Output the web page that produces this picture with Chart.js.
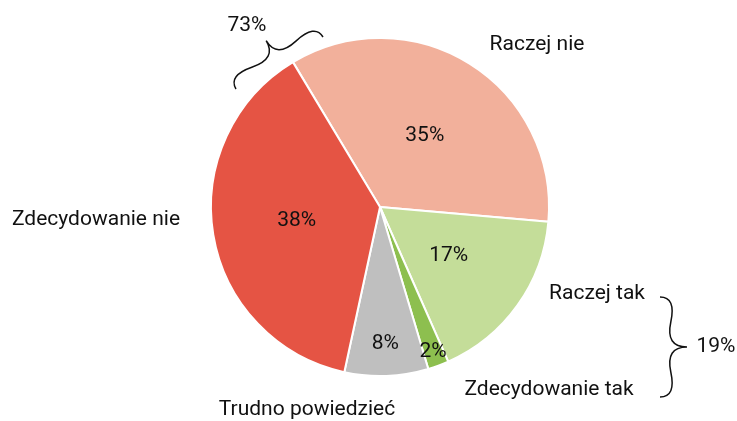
<!DOCTYPE html>
<html>
<head>
<meta charset="utf-8">
<script src="https://cdn.jsdelivr.net/npm/chart.js@4.4.1/dist/chart.umd.min.js"></script>
<style>
  body { margin: 0; background: #fff; }
  #wrap { width: 737px; height: 421px; position: relative; }
</style>
</head>
<body>
<div id="wrap"><canvas id="chart"></canvas></div>
<script>
// dane z wykresu
const categories = ['Raczej nie', 'Raczej tak', 'Zdecydowanie tak', 'Trudno powiedzieć', 'Zdecydowanie nie'];
const values = [35, 17, 2, 8, 38];
const sliceColors = ['#F2B09B', '#C4DD99', '#8DBF4F', '#BFBFBF', '#E55444'];
const groupLabels = ['73%', '19%'];

// odległość etykiet procentowych od środka (ułamek promienia)
const labelRadius = [0.5, 0.5, 0.91, 0.81, 0.5];

// położenie nazw kategorii (środek tekstu)
const namePos = [[537, 45], [597, 294], [549, 390], [307, 410], [96, 220]];

const FONT = '21px Roboto';

// klamra - rysowana krzywymi kwadratowymi
function brace(ctx, x1, y1, x2, y2, w, q) {
    let dx = x1 - x2, dy = y1 - y2;
    const len = Math.sqrt(dx * dx + dy * dy);
    dx /= len; dy /= len;
    const qx1 = x1 + q * w * dy, qy1 = y1 - q * w * dx;
    const qx2 = (x1 - 0.25 * len * dx) + (1 - q) * w * dy;
    const qy2 = (y1 - 0.25 * len * dy) - (1 - q) * w * dx;
    const tx = (x1 - 0.5 * len * dx) + w * dy;
    const ty = (y1 - 0.5 * len * dy) - w * dx;
    const qx3 = x2 + q * w * dy, qy3 = y2 - q * w * dx;
    const qx4 = (x1 - 0.75 * len * dx) + (1 - q) * w * dy;
    const qy4 = (y1 - 0.75 * len * dy) - (1 - q) * w * dx;
    ctx.beginPath();
    ctx.moveTo(x1, y1);
    ctx.quadraticCurveTo(qx1, qy1, qx2, qy2);
    ctx.quadraticCurveTo(2 * qx2 - qx1, 2 * qy2 - qy1, tx, ty);
    ctx.moveTo(x2, y2);
    ctx.quadraticCurveTo(qx3, qy3, qx4, qy4);
    ctx.quadraticCurveTo(2 * qx4 - qx3, 2 * qy4 - qy3, tx, ty);
    ctx.stroke();
}

const labelsPlugin = {
    id: 'labelsPlugin',
    afterDraw(chart) {
        const ctx = chart.ctx;
        const meta = chart.getDatasetMeta(0);
        ctx.save();
        ctx.fillStyle = '#111';
        ctx.font = FONT;
        ctx.textAlign = 'center';
        ctx.textBaseline = 'middle';

        // procenty na wycinkach
        meta.data.forEach((arc, i) => {
            const p = arc.getProps(['x', 'y', 'startAngle', 'endAngle', 'outerRadius'], true);
            const mid = (p.startAngle + p.endAngle) / 2;
            const r = p.outerRadius * labelRadius[i];
            ctx.fillText(values[i] + '%', p.x + Math.cos(mid) * r, p.y + Math.sin(mid) * r);
        });

        // nazwy kategorii
        categories.forEach((c, i) => {
            ctx.fillText(c, namePos[i][0], namePos[i][1]);
        });

        // sumy grup
        ctx.fillText(groupLabels[0], 247, 26);
        ctx.fillText(groupLabels[1], 716, 347);

        ctx.strokeStyle = '#111';
        ctx.lineWidth = 1.5;
        brace(ctx, 323, 37, 236, 89, 26, 0.6);
        brace(ctx, 660, 397, 660, 297, 27, 0.6);
        ctx.restore();
    }
};

new Chart(document.getElementById('chart'), {
    type: 'pie',
    data: {
        labels: categories,
        datasets: [{
            data: values,
            backgroundColor: sliceColors,
            borderColor: '#ffffff',
            borderWidth: 2
        }]
    },
    options: {
        responsive: true,
        maintainAspectRatio: false,
        animation: false,
        rotation: -31,
        layout: { padding: { top: 37, bottom: 44, left: 200, right: 177 } },
        plugins: {
            legend: { display: false },
            tooltip: { enabled: false }
        }
    },
    plugins: [labelsPlugin]
});
</script>
</body>
</html>
